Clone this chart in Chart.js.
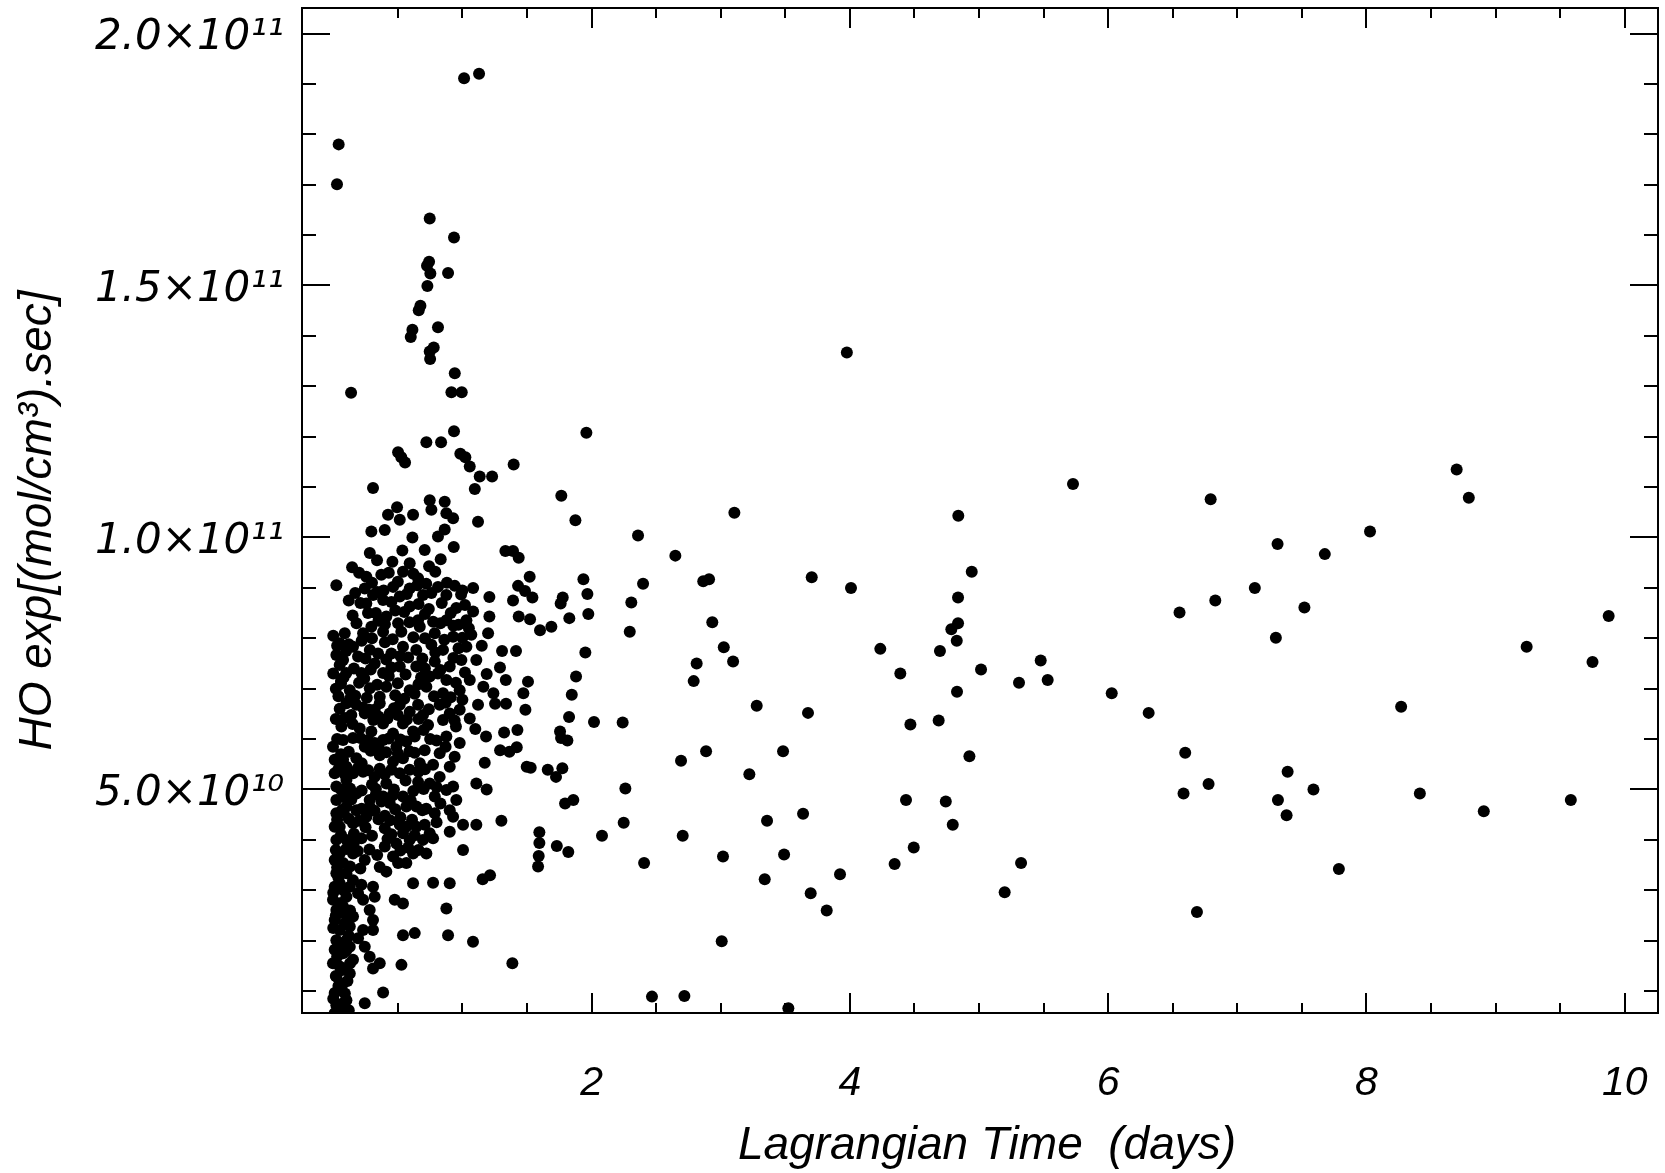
<!DOCTYPE html>
<html>
<head>
<meta charset="utf-8">
<script src="https://cdn.jsdelivr.net/npm/chart.js@4/dist/chart.umd.min.js"></script>
<style>
  html, body { margin: 0; padding: 0; background: #fff; }
  #c { display: block; }
</style>
</head>
<body>
<canvas id="c" width="1665" height="1173"></canvas>
<script>
// ---- Axis ranges and labels ----
const xRange = [-0.242, 10.258];          // Lagrangian time (days)
const yRange = [0.565, 20.506];           // HO exposure, in units of 1e10
const xTickValues = [2, 4, 6, 8, 10];
const xTickLabels = ['2', '4', '6', '8', '10'];
const xMinorTicks = [0.5, 1, 1.5, 2, 2.5, 3, 3.5, 4, 4.5, 5, 5.5, 6, 6.5, 7, 7.5, 8, 8.5, 9, 9.5, 10];
const yTickValues = [5, 10, 15, 20];
const yTickLabels = ['5.0×10¹⁰', '1.0×10¹¹', '1.5×10¹¹', '2.0×10¹¹'];
const yMinorTicks = [1, 2, 3, 4, 5, 6, 7, 8, 9, 10, 11, 12, 13, 14, 15, 16, 17, 18, 19, 20];
const xTitle = 'Lagrangian Time  (days)';
const yTitle = 'HO exp[(mol/cm³).sec]';

// ---- Data: [time (days), HO exposure (x1e10 molec/cm3 . s)] ----
const sparseMiddle = [[3.977,13.67],[3.106,10.49],[5.728,11.06],[4.840,10.43],[2.360,10.04],[2.649,9.64],[2.399,9.08],[2.865,9.13],[2.910,9.17],[2.308,8.71],[2.296,8.13],[3.705,9.21],[4.009,9.00],[4.944,9.32],[4.838,8.81],[4.838,8.30],[4.786,8.18],[4.828,7.95],[4.698,7.75],[2.935,8.32],[3.024,7.82],[3.096,7.54],[2.814,7.50],[2.791,7.15],[4.236,7.79],[4.391,7.30],[5.016,7.38],[5.478,7.56],[5.532,7.17],[5.310,7.12],[4.830,6.94],[6.028,6.91],[3.279,6.66]];
const sparseLower = [[3.676,6.52],[2.241,6.33],[4.469,6.29],[4.688,6.37],[2.887,5.76],[2.693,5.57],[3.483,5.76],[3.222,5.30],[4.926,5.66],[2.262,5.02],[4.435,4.79],[4.743,4.76],[4.797,4.30],[4.495,3.85],[4.347,3.52],[3.638,4.52],[3.359,4.38],[2.249,4.34],[2.706,4.08],[2.407,3.54],[3.018,3.67],[3.491,3.71],[3.341,3.22],[3.924,3.32],[3.697,2.94],[3.821,2.60],[3.008,1.99],[5.326,3.54],[5.199,2.96],[2.468,0.89],[2.719,0.90],[3.524,0.66]];
const sparseLate = [[6.794,10.76],[8.699,11.35],[8.793,10.79],[8.028,10.12],[7.312,9.87],[7.678,9.67],[7.136,9.00],[6.830,8.75],[6.553,8.51],[7.520,8.61],[7.299,8.01],[9.876,8.44],[9.241,7.83],[9.751,7.53],[6.314,6.52],[8.269,6.64],[6.597,5.73],[6.584,4.92],[6.778,5.11],[6.688,2.57],[7.390,5.35],[7.315,4.79],[7.382,4.49],[7.590,5.00],[7.787,3.42],[8.414,4.92],[8.909,4.57],[9.583,4.79]];
const earlyHigh = [[1.013,19.11],[1.129,19.20],[0.042,17.80],[0.029,17.01],[0.747,16.33],[0.935,15.95],[0.742,15.47],[0.726,15.39],[0.752,15.24],[0.889,15.25],[0.729,14.99],[0.675,14.60],[0.662,14.51],[0.613,14.12],[0.600,13.98],[0.811,14.17],[0.778,13.77],[0.747,13.69],[0.750,13.54],[0.941,13.26],[0.915,12.88],[0.995,12.88],[0.138,12.87],[0.935,12.11],[0.721,11.89],[0.835,11.89],[1.960,12.08],[0.502,11.69],[0.527,11.59],[0.556,11.49],[0.984,11.66],[1.023,11.59],[1.057,11.41],[1.397,11.45],[1.134,11.21],[1.230,11.21]];
const dayTwoUpper = [[1.766,10.83],[1.875,10.34],[1.333,9.73],[1.392,9.73],[1.436,9.60],[1.521,9.22],[1.431,9.04],[1.485,8.94],[1.542,8.81],[1.392,8.75],[1.209,8.82],[1.937,9.17],[1.968,8.88],[1.777,8.81],[1.761,8.69],[1.975,8.48],[1.828,8.40],[1.209,8.43],[1.436,8.43],[1.524,8.38],[1.601,8.16],[1.689,8.23],[1.199,8.10],[1.307,7.75],[1.415,7.75],[1.952,7.72],[1.291,7.42],[1.188,7.29],[1.336,7.17],[1.508,7.14],[1.880,7.24],[1.847,6.88],[1.162,7.04],[1.472,6.91],[1.240,6.91]];
const dayTwoLower = [[1.826,6.44],[2.019,6.34],[1.756,6.15],[1.764,6.02],[1.813,5.97],[1.488,6.58],[1.323,6.13],[1.426,6.18],[1.183,6.05],[1.292,5.78],[1.364,5.75],[1.421,5.84],[1.173,5.53],[1.498,5.45],[1.529,5.43],[1.661,5.39],[1.725,5.25],[1.774,5.42],[1.188,5.00],[1.795,4.72],[1.859,4.79],[2.081,4.08],[1.302,4.38],[1.596,4.15],[1.596,3.94],[1.591,3.68],[1.586,3.47],[1.731,3.88],[1.820,3.76],[1.214,3.30],[1.157,3.22],[1.387,1.55],[1.253,6.70],[1.338,6.70]];
const dayOneUpper = [[0.308,10.98],[1.096,10.96],[1.121,10.31],[0.747,10.74],[0.863,10.71],[0.760,10.55],[0.876,10.48],[0.928,10.38],[0.494,10.60],[0.424,10.45],[0.515,10.35],[0.618,10.45],[0.399,10.15],[0.295,10.12],[0.863,10.16],[0.811,10.02],[0.613,10.00],[0.933,9.81],[0.708,9.75],[0.535,9.74],[0.283,9.69],[0.339,9.55],[0.458,9.52],[0.592,9.49],[0.832,9.57],[0.742,9.43],[0.146,9.41],[0.256,9.22],[0.372,9.26],[0.540,9.32],[0.657,9.19],[0.024,9.05],[1.083,9.00],[0.244,8.99],[0.463,9.02],[0.592,8.99],[0.811,9.02],[0.941,9.04],[0.308,8.86],[0.386,8.76],[0.515,8.83],[0.695,8.86],[0.876,8.86],[0.256,8.69],[0.592,8.63],[0.953,8.60],[1.083,8.53],[0.269,8.50],[0.411,8.43],[0.502,8.30],[0.657,8.36],[0.773,8.33],[0.876,8.36],[1.031,8.36],[0.295,8.23],[0.670,8.23],[0.089,8.10],[0.231,8.10],[0.386,8.13],[0.527,8.13],[0.786,8.10],[0.928,8.03],[1.069,8.07],[0.024,7.67],[0.076,7.57],[0.153,7.83],[0.192,7.64],[0.283,7.77],[0.347,7.70],[0.321,7.50],[0.450,7.70],[0.540,7.83],[0.643,7.77],[0.760,7.87],[0.850,7.77],[1.031,7.83],[1.108,7.57],[0.101,7.31],[0.218,7.31],[0.386,7.31],[0.515,7.44],[0.643,7.44],[0.786,7.54],[0.902,7.44],[0.992,7.57],[0.747,7.24],[0.876,7.17],[1.057,7.17],[0.128,6.97],[0.283,7.01],[0.411,7.04],[0.592,6.97],[0.721,7.04],[0.850,6.91],[0.979,6.97],[0.050,7.47]];
const dayOneUpperDense = [[0.20,9.30],[0.43,9.30],[0.62,9.28],[0.79,9.32],[0.30,9.10],[0.50,9.12],[0.72,9.08],[0.88,9.10],[0.17,8.90],[0.34,8.92],[0.57,8.88],[0.76,8.90],[0.99,8.87],[0.21,8.70],[0.45,8.72],[0.66,8.68],[0.84,8.70],[1.02,8.66],[0.33,8.50],[0.55,8.52],[0.71,8.48],[0.91,8.50],[0.18,8.30],[0.40,8.28],[0.59,8.32],[0.83,8.30],[0.97,8.27],[0.30,8.00],[0.46,7.98],[0.62,8.02],[0.71,8.00],[0.86,7.97],[1.00,8.01],[0.05,7.90],[0.12,7.88],[0.25,7.60],[0.41,7.58],[0.58,7.62],[0.69,7.60],[0.93,7.61],[0.16,7.40],[0.29,7.38],[0.45,7.42],[0.71,7.40],[0.83,7.37],[0.06,7.10],[0.20,7.12],[0.34,7.08],[0.50,7.11],[0.66,7.09],[0.95,7.12],[0.04,6.85],[0.17,6.86],[0.36,6.84],[0.48,6.87],[0.78,6.85],[0.91,6.83],[0.00,8.05],[0.03,7.85],[0.00,7.30],[0.06,7.15],[0.02,7.00]];
const coreFill = [[0.12,8.75],[0.39,8.95],[0.65,9.05],[1.00,8.95],[0.15,8.45],[0.35,8.35],[0.48,8.55],[0.74,8.58],[0.93,8.25],[1.05,8.20],[0.10,7.75],[0.22,7.95],[0.40,7.92],[0.52,7.65],[0.79,7.72],[0.97,7.80],[1.15,7.85],[0.08,7.22],[0.24,7.20],[0.43,7.25],[0.56,7.28],[0.68,7.22],[0.81,7.30],[1.02,7.32],[0.13,6.80],[0.26,6.82],[0.55,6.80],[0.63,6.90],[0.87,6.72],[1.00,6.78],[0.15,6.30],[0.35,6.45],[0.50,6.48],[0.70,6.18],[0.95,6.25],[1.10,6.20],[0.06,5.70],[0.22,5.52],[0.35,5.85],[0.50,5.72],[0.87,5.85],[0.94,5.65],[0.09,5.30],[0.30,5.10],[0.40,5.30],[0.56,5.18],[0.66,5.35],[0.80,5.05],[0.14,4.80],[0.33,4.90],[0.46,4.88],[0.60,4.78],[0.72,4.62],[0.83,4.72],[0.08,4.55],[0.25,4.25],[0.40,4.48],[0.52,4.45],[0.80,4.35],[0.16,3.95],[0.34,3.70],[0.42,4.02],[0.58,3.85]];
const dayOneMid = [[0.102,6.71],[0.179,6.68],[0.140,6.48],[0.244,6.51],[0.321,6.58],[0.360,6.71],[0.437,6.51],[0.515,6.68],[0.592,6.54],[0.657,6.68],[0.695,6.48],[0.824,6.68],[0.902,6.51],[0.979,6.58],[1.057,6.41],[1.121,6.68],[0.386,6.31],[0.540,6.31],[0.734,6.28],[0.063,6.25],[0.205,6.21],[0.295,6.15],[0.463,6.11],[0.618,6.15],[0.850,6.38],
  [-0.002,5.85],[0.076,5.98],[0.153,6.02],[0.244,5.85],[0.321,5.92],[0.386,5.98],[0.489,5.85],[0.566,5.95],[0.631,6.05],[0.708,5.78],[0.876,6.05],[0.979,5.92],[0.824,5.72],[0.902,5.45],[0.076,5.59],[0.179,5.62],[0.360,5.68],[0.463,5.55],[0.540,5.62],[0.670,5.52],[0.773,5.49],
  [0.024,5.06],[0.102,5.19],[0.153,5.32],[0.231,5.35],[0.321,5.25],[0.411,5.12],[0.515,5.32],[0.592,5.39],[0.657,5.15],[0.747,5.12],[0.824,5.25],[0.928,5.06],[1.108,5.12],[0.076,4.86],[0.179,4.92],[0.282,4.79],[0.386,4.86],[0.540,4.86],[0.786,4.86],[0.876,4.99],
  [0.024,4.53],[0.102,4.66],[0.179,4.59],[0.282,4.66],[0.373,4.76],[0.437,4.73],[0.566,4.66],[0.644,4.66],[0.786,4.53],[0.953,4.79],[0.902,4.59],[0.928,4.46],[1.005,4.30],[1.108,4.30],[0.050,4.26],[0.153,4.33],[0.257,4.46],[0.399,4.23],[0.515,4.30],[0.566,4.26],[0.644,4.26],[0.708,4.30],[0.747,4.13],[0.902,4.16]];
const dayOneMidDense = [[0.05,6.60],[0.23,6.62],[0.28,6.58],[0.47,6.61],[0.74,6.59],[0.02,6.40],[0.09,6.42],[0.31,6.38],[0.42,6.41],[0.57,6.39],[0.66,6.40],[0.94,6.37],[0.03,6.00],[0.21,6.02],[0.27,5.98],[0.43,6.01],[0.52,5.99],[0.75,6.00],[0.80,5.97],[0.12,5.75],[0.29,5.77],[0.41,5.74],[0.59,5.76],[0.63,5.73],[0.04,5.40],[0.19,5.42],[0.27,5.38],[0.36,5.41],[0.45,5.39],[0.71,5.40],[0.06,5.00],[0.13,5.02],[0.22,4.98],[0.33,5.01],[0.47,5.00],[0.62,4.97],[0.70,5.01],[0.07,4.60],[0.22,4.62],[0.32,4.58],[0.48,4.61],[0.69,4.59],[0.03,4.40],[0.12,4.42],[0.20,4.38],[0.35,4.41],[0.44,4.39],[0.61,4.40],[0.06,4.10],[0.16,4.12],[0.30,4.08],[0.45,4.11],[0.63,4.09],[0.02,3.80],[0.10,3.82],[0.19,3.78],[0.28,3.81],[0.52,3.79],[0.66,3.80],[0.03,3.45],[0.13,3.47],[0.21,3.43],[0.36,3.46]];
const dayOneLow = [[0.024,4.00],[0.102,4.00],[0.218,4.03],[0.399,3.87],[0.489,3.93],[0.540,4.13],[0.463,3.67],[0.592,4.00],[0.695,4.00],[0.773,4.03],[0.721,3.73],[1.005,3.80],[0.050,3.73],[0.153,3.73],[0.244,3.60],[0.076,3.54],[0.411,3.37],[0.502,3.54],[0.566,3.54],[0.618,3.73],
  [0.024,3.34],[0.102,3.34],[0.050,3.14],[0.153,3.20],[0.218,3.11],[0.308,3.07],[0.618,3.14],[0.773,3.15],[0.902,3.14],[-0.002,2.81],[0.102,2.87],[0.192,2.94],[0.321,2.87],[0.476,2.81],[0.540,2.74],[0.231,2.81],
  [0.024,2.61],[0.089,2.54],[0.153,2.48],[0.282,2.61],[0.308,2.41],[0.050,2.21],[0.128,2.28],[0.231,2.21],[0.308,2.21],[0.540,2.11],[0.631,2.15],[0.889,2.11],[1.082,1.98],[0.876,2.64],
  [0.024,2.01],[0.102,2.01],[0.192,2.05],[0.244,1.88],[0.076,1.75],[-0.002,1.55],[0.050,1.49],[0.153,1.62],[0.282,1.68],[0.360,1.55],[0.308,1.45],[0.528,1.52],
  [0.024,1.29],[0.076,1.15],[0.011,0.96],[0.063,1.02],[0.102,0.82],[0.024,0.72],[0.050,0.59],[0.386,0.97],[0.244,0.76],[0.489,0.45]];
const startColumn = [[0.011,5.59],[0.102,5.45],[0.011,5.32],[0.024,4.79],[0.128,4.92],[0.011,4.26],[0.128,3.87],[0.011,3.60],[0.011,3.07],[0.128,3.07],[0.076,2.68],[0.011,2.41],[0.128,1.88],[0.011,1.82],[0.128,1.35],[0.076,0.76],[0.011,0.56],
  [0.04,3.25],[0.08,3.00],[0.00,2.95],[0.06,2.75],[0.13,2.60],[0.02,2.50],[0.09,2.35],[0.00,2.25],[0.12,2.10],[0.05,1.95],[0.10,1.80],[0.03,1.68],[0.13,1.55],[0.07,1.42],[0.02,1.30],[0.11,1.20],[0.04,1.10],[0.09,0.95],[0.00,0.85],[0.06,0.68],[0.12,0.62]];

const allPoints = [].concat(sparseMiddle, sparseLower, sparseLate, earlyHigh, dayTwoUpper, dayTwoLower,
  dayOneUpper, dayOneUpperDense, coreFill, dayOneMid, dayOneMidDense, dayOneLow, startColumn).map(([x, y]) => ({ x, y }));

const FONT = 'Liberation Sans, Arial, Helvetica, sans-serif';
const FONT_Y = 'DejaVu Sans, Liberation Sans, sans-serif';

const frameTicks = {
  id: 'frameTicks',
  afterDraw(chart) {
    const { ctx, chartArea: a, scales } = chart;
    const xs = scales.x, ys = scales.y;
    ctx.save();
    ctx.strokeStyle = '#000';
    ctx.lineWidth = 2;
    ctx.beginPath();
    for (const v of xMinorTicks) {
      const p = Math.round(xs.getPixelForValue(v));
      const len = xTickValues.includes(v) ? 20 : 10;
      ctx.moveTo(p, a.bottom); ctx.lineTo(p, a.bottom - len);
      ctx.moveTo(p, a.top); ctx.lineTo(p, a.top + len);
    }
    for (const v of yMinorTicks) {
      const p = Math.round(ys.getPixelForValue(v));
      const len = yTickValues.includes(v) ? 28 : 14;
      ctx.moveTo(a.left, p); ctx.lineTo(a.left + len, p);
      ctx.moveTo(a.right, p); ctx.lineTo(a.right - len, p);
    }
    ctx.stroke();
    ctx.strokeRect(a.left, a.top, a.right - a.left, a.bottom - a.top);
    ctx.restore();
  }
};

function zeroPadding(s) {
  s.paddingLeft = 0; s.paddingRight = 0; s.paddingTop = 0; s.paddingBottom = 0;
}
// nudge an axis title by a few pixels (the title itself is still drawn by Chart.js)
function nudgeTitle(s, dx, dy) {
  if (s._nudged) return;
  const orig = s.drawTitle.bind(s);
  s.drawTitle = function () {
    this.ctx.save();
    this.ctx.translate(dx, dy);
    orig();
    this.ctx.restore();
  };
  s._nudged = true;
}

new Chart(document.getElementById('c'), {
  type: 'scatter',
  data: {
    datasets: [{
      data: allPoints,
      pointRadius: 6,
      pointHoverRadius: 6,
      pointBorderWidth: 0,
      pointBackgroundColor: '#000',
      backgroundColor: '#000',
      borderColor: '#000'
    }]
  },
  options: {
    responsive: false,
    animation: false,
    devicePixelRatio: 1,
    events: [],
    layout: { padding: { top: 8, right: 7, left: 0, bottom: 0 } },
    plugins: { legend: { display: false }, tooltip: { enabled: false } },
    scales: {
      x: {
        type: 'linear',
        position: 'bottom',
        min: xRange[0],
        max: xRange[1],
        afterBuildTicks: s => { s.ticks = xTickValues.map(v => ({ value: v })); },
        afterFit: s => { s.height = 160; zeroPadding(s); nudgeTitle(s, 7, 5); },
        grid: { display: false, drawTicks: false },
        border: { display: false },
        ticks: {
          autoSkip: false, maxRotation: 0, minRotation: 0,
          padding: 46, color: '#000',
          font: { family: FONT, size: 41, style: 'italic' },
          callback: (v, i) => xTickLabels[i]
        },
        title: {
          display: true, text: xTitle, color: '#000',
          font: { family: FONT, size: 46, style: 'italic' },
          padding: { top: 0, bottom: 4 }
        }
      },
      y: {
        type: 'linear',
        position: 'left',
        min: yRange[0],
        max: yRange[1],
        afterBuildTicks: s => { s.ticks = yTickValues.map(v => ({ value: v })); },
        afterFit: s => { s.width = 302; zeroPadding(s); nudgeTitle(s, 0, 10); },
        grid: { display: false, drawTicks: false },
        border: { display: false },
        ticks: {
          autoSkip: false, padding: 18, labelOffset: 5, color: '#000',
          font: { family: FONT_Y, size: 42, style: 'italic' },
          callback: (v, i) => yTickLabels[i]
        },
        title: {
          display: true, text: yTitle, color: '#000',
          font: { family: FONT, size: 46, style: 'italic' },
          padding: { top: 11, bottom: 0 }
        }
      }
    }
  },
  plugins: [frameTicks]
});
</script>
</body>
</html>
